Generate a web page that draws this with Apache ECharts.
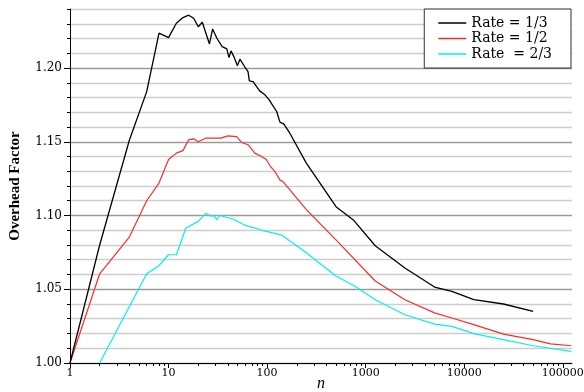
<!DOCTYPE html>
<html>
<head>
<meta charset="utf-8">
<script src="https://cdn.jsdelivr.net/npm/echarts@6/dist/echarts.min.js"></script>
<style>
html,body{margin:0;padding:0;background:#fff;}
#chart{width:584px;height:392px;}
</style>
</head>
<body>
<div id="chart"></div>
<script>
// ---- data ----
var seriesNames = ['Rate = 1/3', 'Rate = 1/2', 'Rate  = 2/3'];

var rate13N = [1, 2, 4, 6, 8, 10, 12, 14, 16, 18, 20, 22, 26, 28, 31, 35, 39, 41, 43, 46, 50, 53, 59, 64, 66, 72, 84, 95, 105, 113, 125, 135, 148, 170, 250, 500, 750, 1250, 2500, 5000, 7500, 12500, 25000, 50000];
var rate13V = [1.000, 1.080, 1.151, 1.184, 1.2236, 1.2206, 1.2303, 1.2342, 1.2358, 1.2337, 1.228, 1.231, 1.2163, 1.2265, 1.220, 1.2145, 1.213, 1.207, 1.2116, 1.2077, 1.2016, 1.206, 1.201, 1.1976, 1.1913, 1.1908, 1.1845, 1.1818, 1.1784, 1.175, 1.1705, 1.1633, 1.162, 1.1558, 1.1355, 1.106, 1.097, 1.0795, 1.0644, 1.0515, 1.0485, 1.0429, 1.040, 1.035];

var rate12N = [1, 2, 4, 6, 8, 10, 12, 14, 16, 18, 20, 24, 28, 34, 40, 49, 55, 64, 75, 88, 98, 107, 120, 135, 145, 250, 500, 1250, 2500, 5000, 7500, 12500, 25000, 50000, 75000, 122000];
var rate12V = [1.000, 1.0605, 1.0854, 1.110, 1.122, 1.138, 1.1423, 1.144, 1.1513, 1.152, 1.150, 1.1525, 1.1525, 1.1525, 1.154, 1.1535, 1.1495, 1.148, 1.1423, 1.140, 1.138, 1.1337, 1.1298, 1.124, 1.123, 1.104, 1.0835, 1.0556, 1.0429, 1.034, 1.0305, 1.026, 1.0196, 1.0158, 1.013, 1.0117];

var rate23N = [2, 6, 8, 10, 12, 15, 20, 24, 26, 29, 31, 33, 45, 59, 91, 139, 240, 500, 800, 1250, 2500, 5000, 7500, 12500, 25000, 50000, 122000];
var rate23V = [1.000, 1.0605, 1.066, 1.0734, 1.0734, 1.0915, 1.096, 1.1016, 1.0998, 1.0998, 1.0971, 1.100, 1.0976, 1.0935, 1.0898, 1.0869, 1.0756, 1.059, 1.0515, 1.0429, 1.0327, 1.0264, 1.0248, 1.0199, 1.0158, 1.0117, 1.0079];

var xMajorTicks = [1, 10, 100, 1000, 10000, 100000];
var xMinorTicks = [2,3,4,5,6,7,8,9,20,30,40,50,60,70,80,90,200,300,400,500,600,700,800,900,2000,3000,4000,5000,6000,7000,8000,9000,20000,30000,40000,50000,60000,70000,80000,90000];
var yMajorTicks = [1.00, 1.05, 1.10, 1.15, 1.20];

function pairs(xs, ys) { return xs.map(function (x, i) { return [x, ys[i]]; }); }

var chart = echarts.init(document.getElementById('chart'), null, {renderer: 'canvas'});
var serifFont = 'DejaVu Serif';
var lineColors = ['#000000', '#ff2a2a', '#00f0f0'];
chart.setOption({
  animation: false,
  backgroundColor: '#fff',
  grid: {left: 70, right: 12, top: 9, bottom: 29, containLabel: false, outerBoundsMode: 'none'},
  legend: {
    orient: 'vertical',
    right: 13, top: 9,
    padding: [7, 19, 7, 14],
    itemGap: 1.5,
    itemWidth: 28,
    itemHeight: 1.5,
    backgroundColor: '#fff',
    borderColor: '#333',
    borderWidth: 1,
    borderRadius: 0,
    textStyle: {fontFamily: serifFont, fontSize: 14, color: '#000', lineHeight: 14},
    data: seriesNames.map(function (n) { return {name: n, icon: 'rect'}; })
  },
  xAxis: [{
    type: 'log', logBase: 10, min: 1, max: 124000,
    name: 'n', nameLocation: 'middle', nameGap: 13, nameMoveOverlap: false,
    nameTextStyle: {fontFamily: 'Liberation Serif', fontStyle: 'italic', fontSize: 16, color: '#000'},
    axisLine: {show: true, lineStyle: {color: '#000', width: 1}},
    axisTick: {show: true, length: 5, customValues: xMajorTicks, lineStyle: {color: '#000'}},
    axisLabel: {show: true, customValues: xMajorTicks, fontFamily: serifFont, fontSize: 11, color: '#000', margin: 5,
      formatter: function (v) { return String(Math.round(v)); }},
    splitLine: {show: false}
  }, {
    type: 'log', logBase: 10, min: 1, max: 124000, position: 'bottom',
    axisLine: {show: false},
    axisTick: {show: true, length: 3, customValues: xMinorTicks, lineStyle: {color: '#000'}},
    axisLabel: {show: false},
    splitLine: {show: false}
  }],
  yAxis: [{
    type: 'value', min: 1.0, max: 1.24, interval: 0.01,
    axisLine: {show: true, lineStyle: {color: '#000', width: 1}},
    axisTick: {show: true, length: 3, lineStyle: {color: '#000'}},
    axisLabel: {show: false},
    splitLine: {show: true, lineStyle: {color: ['#9a9a9a', '#cdcdcd', '#cdcdcd', '#cdcdcd', '#cdcdcd'], width: 1.3}}
  }, {
    type: 'value', min: 1.0, max: 1.24, interval: 0.05, position: 'left',
    name: 'Overhead Factor', nameLocation: 'middle', nameGap: 47, nameRotate: 90, nameMoveOverlap: false,
    nameTextStyle: {fontFamily: 'Liberation Serif', fontWeight: 'bold', fontSize: 15, color: '#000'},
    axisLine: {show: false},
    axisTick: {show: true, length: 6, customValues: yMajorTicks, lineStyle: {color: '#000'}},
    axisLabel: {show: true, customValues: yMajorTicks, fontFamily: serifFont, fontSize: 12, color: '#000', margin: 8,
      formatter: function (v) { return Number(v).toFixed(2); }},
    splitLine: {show: false}
  }],
  series: [{
    name: seriesNames[0], type: 'line', xAxisIndex: 0, yAxisIndex: 0,
    symbol: 'none', showSymbol: false,
    lineStyle: {color: lineColors[0], width: 1.3}, itemStyle: {color: lineColors[0]},
    data: pairs(rate13N, rate13V), z: 4
  }, {
    name: seriesNames[1], type: 'line', xAxisIndex: 0, yAxisIndex: 0,
    symbol: 'none', showSymbol: false,
    lineStyle: {color: lineColors[1], width: 1.2}, itemStyle: {color: lineColors[1]},
    data: pairs(rate12N, rate12V), z: 3
  }, {
    name: seriesNames[2], type: 'line', xAxisIndex: 0, yAxisIndex: 0,
    symbol: 'none', showSymbol: false,
    lineStyle: {color: lineColors[2], width: 1.2}, itemStyle: {color: lineColors[2]},
    data: pairs(rate23N, rate23V), z: 2
  }]
});
</script>
</body>
</html>
